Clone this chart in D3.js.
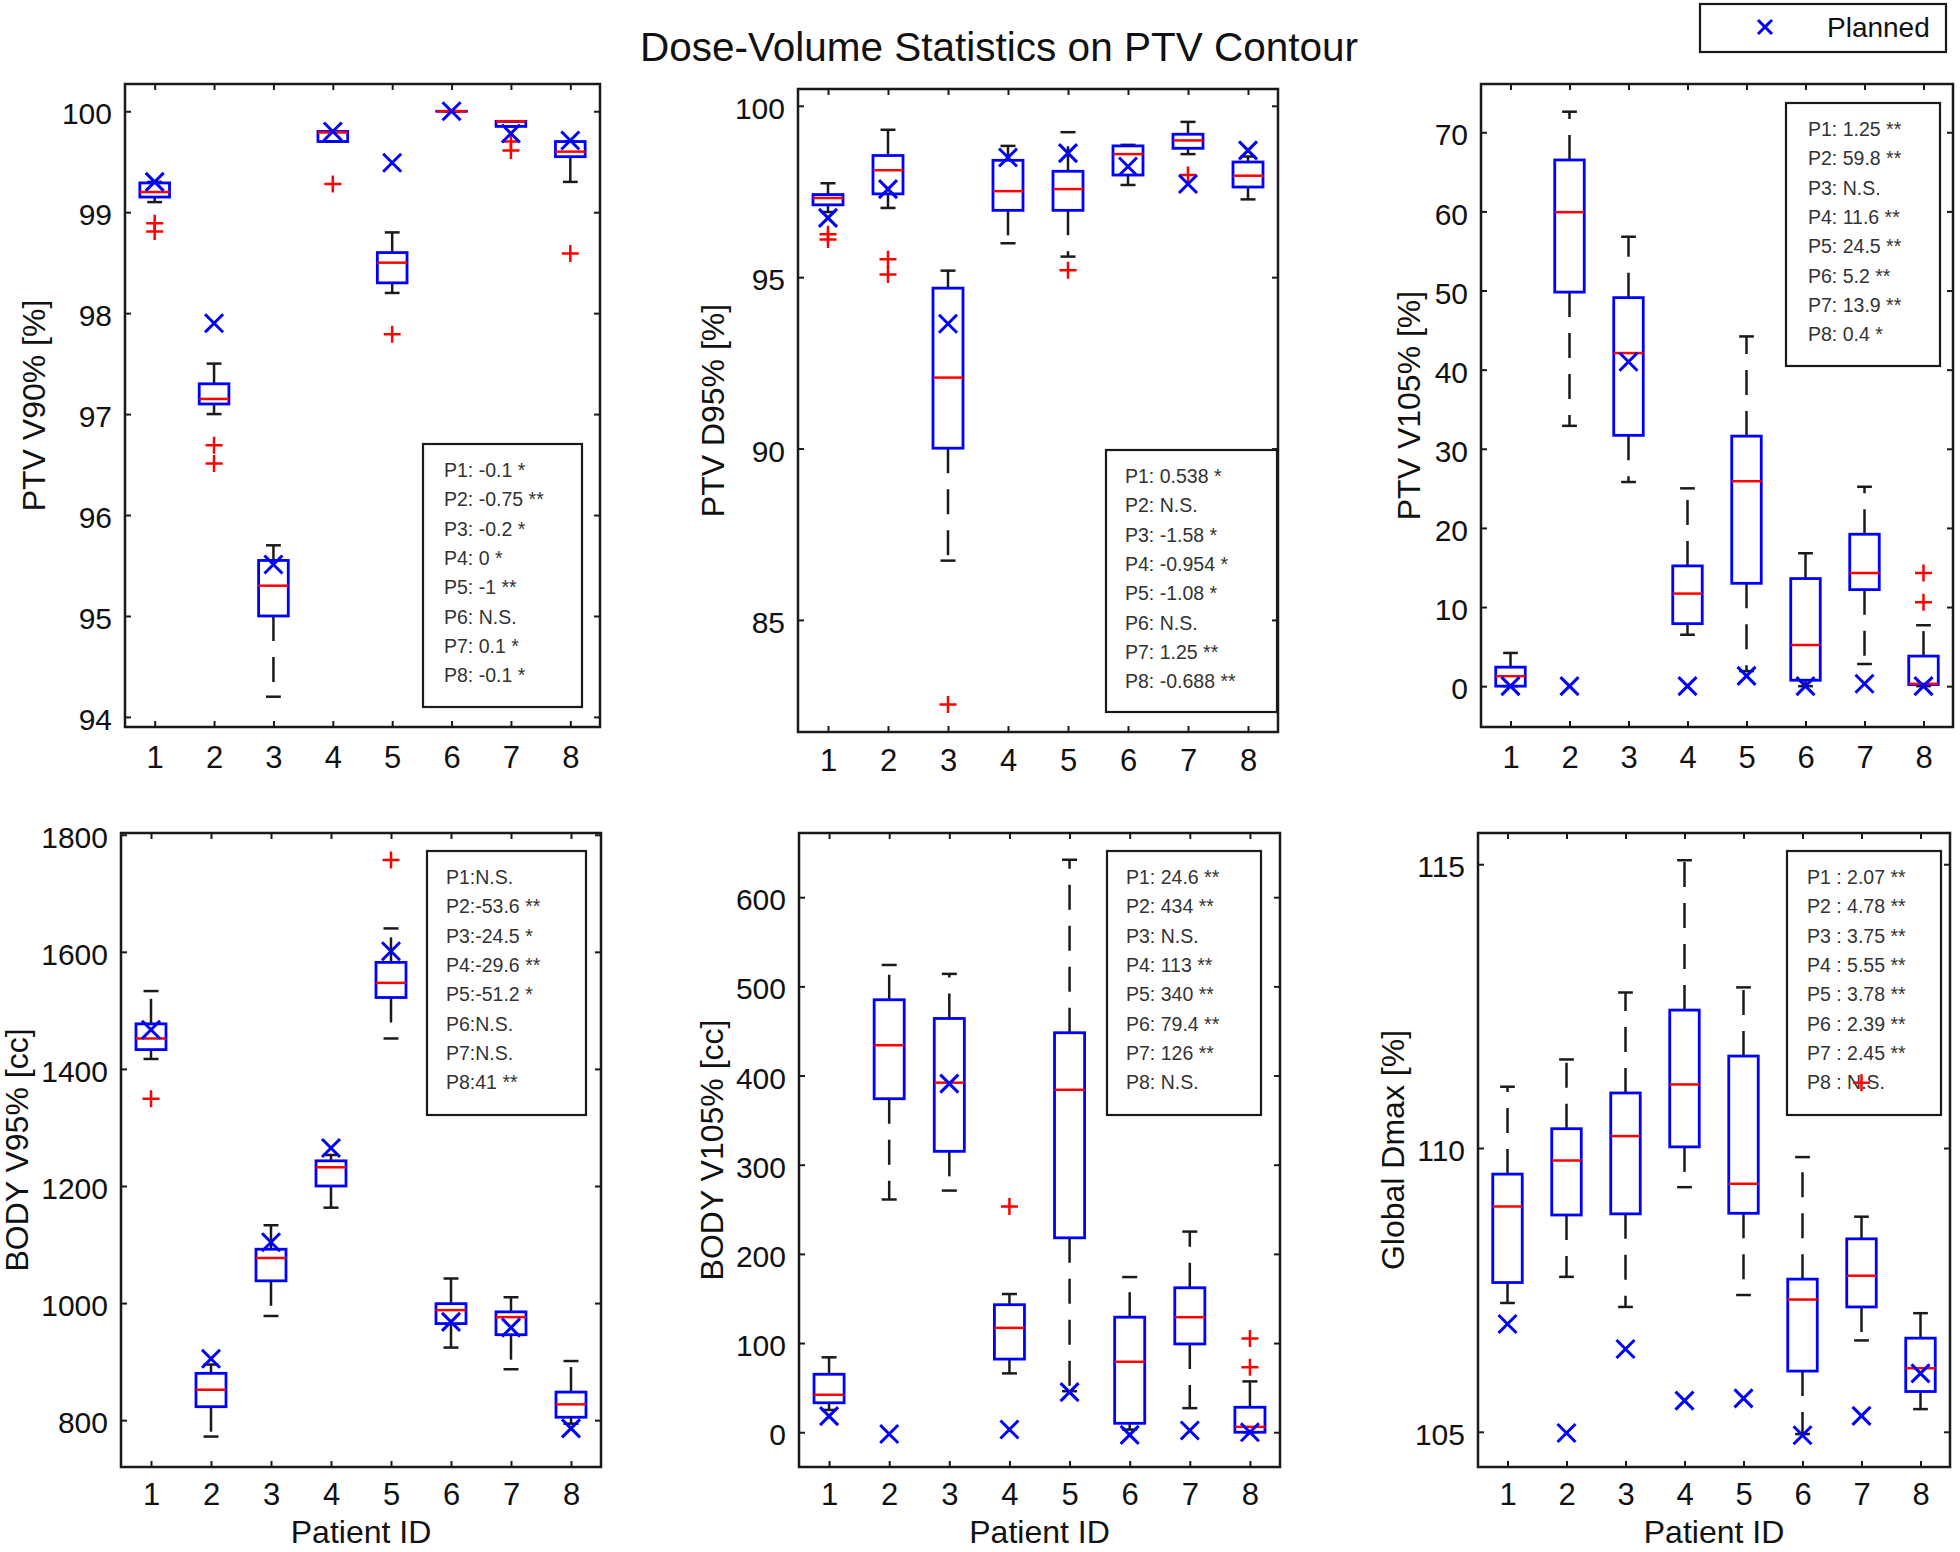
<!DOCTYPE html>
<html><head><meta charset="utf-8">
<script src="https://cdn.jsdelivr.net/npm/d3@7"></script>
<style>body{margin:0;background:#fff}</style>
</head><body><svg id="c" width="1960" height="1552" xmlns="http://www.w3.org/2000/svg"></svg>
<script>
// ---------- DATA ----------
const patients = [1, 2, 3, 4, 5, 6, 7, 8];
const chartTitle = 'Dose-Volume Statistics on PTV Contour';
const legendLabel = 'Planned';
const xAxisLabel = 'Patient ID';

// box stats per patient: [lower whisker, Q1, median, Q3, upper whisker]
const ptvV90Box = [[99.1,99.15,99.2,99.29,99.3],[97.0,97.1,97.15,97.3,97.5],[94.2,95.0,95.3,95.55,95.7],[99.7,99.7,99.79,99.8,99.8],[98.2,98.3,98.5,98.6,98.8],[100,100,100,100,100],[99.85,99.85,99.9,99.9,99.9],[99.3,99.55,99.6,99.7,99.7]];
const ptvV90Outliers = [[98.89,98.81],[96.69,96.51],[],[99.28],[97.79],[],[99.7,99.61],[98.59]];
const ptvV90Planned = [99.3,97.9,95.51,99.8,99.49,100,99.78,99.71];
const ptvV90Stats = ['P1: -0.1 *','P2: -0.75 **','P3: -0.2 *','P4: 0 *','P5: -1 **','P6: N.S.','P7: 0.1 *','P8: -0.1 *'];
const ptvV90Ticks = [94,95,96,97,98,99,100];

const ptvD95Box = [[96.9,97.11,97.31,97.41,97.74],[97.02,97.43,98.12,98.55,99.3],[86.73,90.01,92.07,94.68,95.19],[95.99,96.95,97.51,98.41,98.83],[95.6,96.95,97.57,98.09,99.23],[97.69,97.98,98.59,98.83,98.86],[98.59,98.76,98.99,99.17,99.53],[97.27,97.63,97.96,98.36,98.52]];
const ptvD95Outliers = [[96.25,96.1],[95.52,95.08],[82.53],[],[95.2],[],[97.98],[]];
const ptvD95Planned = [96.73,97.57,93.64,98.49,98.62,98.23,97.72,98.7];
const ptvD95Stats = ['P1: 0.538 *','P2: N.S.','P3: -1.58 *','P4: -0.954 *','P5: -1.08 *','P6: N.S.','P7: 1.25 **','P8: -0.688 **'];
const ptvD95Ticks = [85,90,95,100];

const ptvV105Box = [[0,0,1.26,2.4,4.2],[32.9,49.8,59.9,66.5,72.6],[25.8,31.7,42.1,49.1,56.8],[6.5,7.9,11.7,15.2,25.0],[1.9,13.0,25.9,31.6,44.2],[0,0.75,5.2,13.6,16.8],[2.8,12.2,14.3,19.2,25.2],[0,0.2,0.3,3.8,7.7]];
const ptvV105Outliers = [[],[],[],[],[],[],[],[14.3,10.6]];
const ptvV105Planned = [0,0,41.0,0,1.3,0,0.3,0];
const ptvV105Stats = ['P1: 1.25 **','P2: 59.8 **','P3: N.S.','P4: 11.6 **','P5: 24.5 **','P6: 5.2 **','P7: 13.9 **','P8: 0.4 *'];
const ptvV105Ticks = [0,10,20,30,40,50,60,70];

const bodyV95Box = [[1417,1433,1452,1477,1533],[772,823,852,880,895],[978,1038,1077,1092,1133],[1163,1200,1232,1243,1253],[1452,1522,1547,1582,1640],[924,965,988,999,1042],[887,946,976,985,1010],[794,805,827,848,901]];
const bodyV95Outliers = [[1349],[],[],[],[1757],[],[],[]];
const bodyV95Planned = [1467,905,1104,1265,1601,968,958,786];
const bodyV95Stats = ['P1:N.S.','P2:-53.6 **','P3:-24.5 *','P4:-29.6 **','P5:-51.2 *','P6:N.S.','P7:N.S.','P8:41 **'];
const bodyV95Ticks = [800,1000,1200,1400,1600,1800];

const bodyV105Box = [[25,33,42,65,84],[261,374,434,485,524],[271,315,392,464,514],[66,82,117,143,155],[46,218,384,448,642],[3,10,79,129,174],[27,99,129,162,225],[0,0,6,28,57]];
const bodyV105Outliers = [[],[],[],[253],[],[],[],[105,73]];
const bodyV105Planned = [18,-2,391,3,45,-3,2,0];
const bodyV105Stats = ['P1: 24.6 **','P2: 434 **','P3: N.S.','P4: 113 **','P5: 340 **','P6: 79.4 **','P7: 126 **','P8: N.S.'];
const bodyV105Ticks = [0,100,200,300,400,500,600];

const dmaxBox = [[107.27,107.63,108.97,109.54,111.08],[107.73,108.82,109.78,110.34,111.56],[107.2,108.84,110.21,110.97,112.74],[109.31,110.02,111.12,112.43,115.07],[107.41,108.85,109.37,111.62,112.83],[104.96,106.07,107.33,107.69,109.84],[106.61,107.2,107.75,108.4,108.79],[105.4,105.71,106.12,106.65,107.09]];
const dmaxOutliers = [[],[],[],[],[],[],[111.15],[]];
const dmaxPlanned = [106.9,104.98,106.46,105.55,105.59,104.94,105.28,106.03];
const dmaxStats = ['P1 : 2.07 **','P2 : 4.78 **','P3 : 3.75 **','P4 : 5.55 **','P5 : 3.78 **','P6 : 2.39 **','P7 : 2.45 **','P8 : N.S.'];
const dmaxTicks = [105,110,115];

// ---------- LAYOUT ----------
const FONT = '"Liberation Sans", Arial, Helvetica, sans-serif';
const panels = [
  {frame:[125,84,600,727], yDomain:[93.9,100.27], ticks:ptvV90Ticks, label:'PTV V90% [%]', labelX:45, statBox:[423,444,159,263], statX:444,
   box:ptvV90Box, out:ptvV90Outliers, plan:ptvV90Planned, stats:ptvV90Stats, xlabel:false, pad:19},
  {frame:[798,89,1278,732], yDomain:[81.73,100.49], ticks:ptvD95Ticks, label:'PTV D95% [%]', labelX:724, statBox:[1106,450,171,262], statX:1125,
   box:ptvD95Box, out:ptvD95Outliers, plan:ptvD95Planned, stats:ptvD95Stats, xlabel:false, pad:17},
  {frame:[1481,84,1953,727], yDomain:[-5.16,76.1], ticks:ptvV105Ticks, label:'PTV V105% [%]', labelX:1420, statBox:[1786,103,154,263], statX:1808,
   box:ptvV105Box, out:ptvV105Outliers, plan:ptvV105Planned, stats:ptvV105Stats, xlabel:false, pad:19},
  {frame:[121,833,601,1467], yDomain:[720,1803], ticks:bodyV95Ticks, label:'BODY V95% [cc]', labelX:28, statBox:[427,851,159,264], statX:446,
   box:bodyV95Box, out:bodyV95Outliers, plan:bodyV95Planned, stats:bodyV95Stats, xlabel:true, pad:16},
  {frame:[799,833,1280,1467], yDomain:[-39,672], ticks:bodyV105Ticks, label:'BODY V105% [cc]', labelX:723, statBox:[1107,851,154,264], statX:1126,
   box:bodyV105Box, out:bodyV105Outliers, plan:bodyV105Planned, stats:bodyV105Stats, xlabel:true, pad:16},
  {frame:[1478,833,1950,1467], yDomain:[104.38,115.55], ticks:dmaxTicks, label:'Global Dmax [%]', labelX:1404, statBox:[1787,851,154,264], statX:1807,
   box:dmaxBox, out:dmaxOutliers, plan:dmaxPlanned, stats:dmaxStats, xlabel:true, pad:16}
];

const svg = d3.select('#c');
const INK = '#1a1a1a';
const BLUE = '#0000ff';
const RED = '#ff0000';
const plusPath = 'M-8.5,0H8.5M0,-8.5V8.5';
const crossPath = 'M-9,-9L9,9M-9,9L9,-9';

function styleAxis(sel, fs) {
  sel.select('.domain').remove();
  sel.selectAll('line').attr('stroke', INK).attr('stroke-width', 2);
  sel.selectAll('text').attr('font-size', fs).attr('fill', '#111').attr('font-family', FONT);
}

panels.forEach(p => {
  const [x0, y0, x1, y1] = p.frame;
  const x = d3.scaleLinear().domain([0.5, 8.5]).range([x0, x1]);
  const y = d3.scaleLinear().domain(p.yDomain).range([y1, y0]);
  const g = svg.append('g');

  // axes (inward ticks on all four sides)
  const bottom = g.append('g').attr('transform', `translate(0,${y1})`)
    .call(d3.axisBottom(x).tickValues(patients).tickSize(-6).tickPadding(p.pad).tickFormat(d3.format('d')));
  styleAxis(bottom, 31);
  const top = g.append('g').attr('transform', `translate(0,${y0})`)
    .call(d3.axisTop(x).tickValues(patients).tickSize(-6).tickFormat(''));
  styleAxis(top, 31);
  const left = g.append('g').attr('transform', `translate(${x0},0)`)
    .call(d3.axisLeft(y).tickValues(p.ticks).tickSize(-6).tickPadding(13).tickFormat(d3.format('d')));
  styleAxis(left, 30);
  left.selectAll('text').attr('dy', '0.42em');
  const right = g.append('g').attr('transform', `translate(${x1},0)`)
    .call(d3.axisRight(y).tickValues(p.ticks).tickSize(-6).tickFormat(''));
  styleAxis(right, 30);

  // frame
  g.append('rect').attr('x', x0).attr('y', y0).attr('width', x1 - x0).attr('height', y1 - y0)
    .attr('fill', 'none').attr('stroke', INK).attr('stroke-width', 2.5);

  // y label
  g.append('text').attr('transform', `translate(${p.labelX},${(y0 + y1) / 2}) rotate(-90)`)
    .attr('text-anchor', 'middle').attr('font-family', FONT).attr('font-size', 32).attr('fill', '#111')
    .text(p.label);
  if (p.xlabel) {
    g.append('text').attr('x', (x0 + x1) / 2).attr('y', 1543).attr('text-anchor', 'middle')
      .attr('font-family', FONT).attr('font-size', 32).attr('fill', '#111').text(xAxisLabel);
  }

  // statistics box
  const [bx, by, bw, bh] = p.statBox;
  g.append('rect').attr('x', bx).attr('y', by).attr('width', bw).attr('height', bh)
    .attr('fill', 'none').attr('stroke', INK).attr('stroke-width', 2.2);
  g.selectAll('text.stat').data(p.stats).join('text').attr('class', 'stat')
    .attr('x', p.statX).attr('y', (d, i) => by + 33 + i * 29.3)
    .attr('font-family', FONT).attr('font-size', 19.5).attr('fill', '#333').text(d => d);

  const hw = x(1.25) - x(1);      // half box width (0.25 unit)
  const cw = x(1.125) - x(1);     // half cap width
  const data = patients.map((pid, i) => ({pid, s: p.box[i], out: p.out[i], plan: p.plan[i]}));

  const bg = g.selectAll('g.bx').data(data).join('g').attr('class', 'bx');
  // whiskers
  bg.append('line').attr('x1', d => x(d.pid)).attr('x2', d => x(d.pid))
    .attr('y1', d => y(d.s[3])).attr('y2', d => y(d.s[4]))
    .attr('stroke', INK).attr('stroke-width', 2.5).attr('stroke-dasharray', '25,16');
  bg.append('line').attr('x1', d => x(d.pid)).attr('x2', d => x(d.pid))
    .attr('y1', d => y(d.s[1])).attr('y2', d => y(d.s[0]))
    .attr('stroke', INK).attr('stroke-width', 2.5).attr('stroke-dasharray', '25,16');
  // caps
  [0, 4].forEach(k => {
    bg.append('line').attr('x1', d => x(d.pid) - cw).attr('x2', d => x(d.pid) + cw)
      .attr('y1', d => y(d.s[k])).attr('y2', d => y(d.s[k]))
      .attr('stroke', INK).attr('stroke-width', 2.5);
  });
  // box
  bg.append('rect').attr('x', d => x(d.pid) - hw).attr('width', 2 * hw)
    .attr('y', d => y(d.s[3])).attr('height', d => Math.max(0.01, y(d.s[1]) - y(d.s[3])))
    .attr('fill', 'none').attr('stroke', BLUE).attr('stroke-width', 2.8);
  // median
  bg.append('line').attr('x1', d => x(d.pid) - hw).attr('x2', d => x(d.pid) + hw)
    .attr('y1', d => y(d.s[2])).attr('y2', d => y(d.s[2]))
    .attr('stroke', RED).attr('stroke-width', 2.5);
  // outliers
  bg.selectAll('path.out').data(d => d.out.map(v => ({pid: d.pid, v}))).join('path').attr('class', 'out')
    .attr('transform', d => `translate(${x(d.pid)},${y(d.v)})`).attr('d', plusPath)
    .attr('stroke', RED).attr('stroke-width', 2.5).attr('fill', 'none');
  // planned
  bg.append('path').attr('transform', d => `translate(${x(d.pid)},${y(d.plan)})`).attr('d', crossPath)
    .attr('stroke', BLUE).attr('stroke-width', 3).attr('fill', 'none');
});

// title
svg.append('text').attr('x', 999).attr('y', 61).attr('text-anchor', 'middle')
  .attr('font-family', FONT).attr('font-size', 40.5).attr('fill', '#111').text(chartTitle);

// legend
svg.append('rect').attr('x', 1700).attr('y', 4).attr('width', 246).attr('height', 48)
  .attr('fill', '#fff').attr('stroke', INK).attr('stroke-width', 2.2);
svg.append('path').attr('transform', 'translate(1765,27)').attr('d', 'M-7,-7L7,7M-7,7L7,-7')
  .attr('stroke', BLUE).attr('stroke-width', 3).attr('fill', 'none');
svg.append('text').attr('x', 1827).attr('y', 37).attr('font-family', FONT).attr('font-size', 28)
  .attr('fill', '#111').text(legendLabel);
</script></body></html>
